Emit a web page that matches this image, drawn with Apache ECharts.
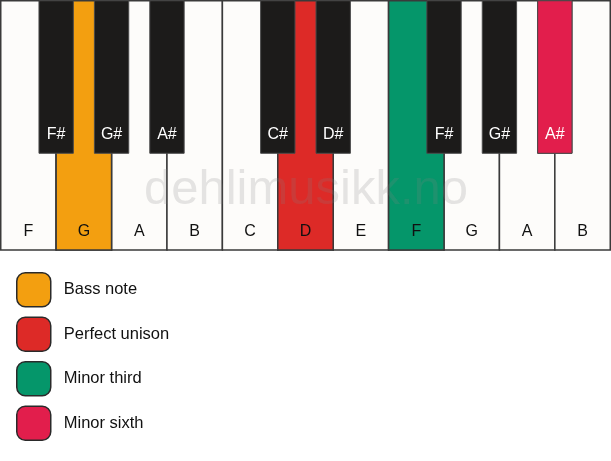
<!DOCTYPE html>
<html>
<head>
<meta charset="utf-8">
<script src="https://cdn.jsdelivr.net/npm/echarts@6/dist/echarts.min.js"></script>
<style>
  html, body { margin: 0; padding: 0; background: #ffffff; }
  #chart { width: 611px; height: 461px; }
</style>
</head>
<body>
<div id="chart"></div>
<script>
// keyboard layout: white keys left to right, black keys sit on the boundary between two whites
const whiteNotes = ['F', 'G', 'A', 'B', 'C', 'D', 'E', 'F', 'G', 'A', 'B'];
const blackNotes = ['F#', 'G#', 'A#', 'C#', 'D#', 'F#', 'G#', 'A#'];
const blackPos = [1, 2, 3, 5, 6, 8, 9, 10];

// highlighted keys, one per legend entry
const legendNames = ['Bass note', 'Perfect unison', 'Minor third', 'Minor sixth'];
const legendColors = ['#F39F10', '#DD2A27', '#05966A', '#E21E4C'];
const highlightKind = ['white', 'white', 'white', 'black'];
const highlightIndex = [1, 5, 7, 7];

const WHITE_FILL = '#FDFCFA';
const BLACK_FILL = '#1C1B1A';
const FONT = '"Liberation Sans", Arial, Helvetica, sans-serif';
const blackWidth = 0.62;
const blackBottom = 0.388;

function drawKey(kind, pos, label, fill, api) {
  const white = kind === 'white';
  const tl = white ? api.coord([pos, 1]) : api.coord([pos - blackWidth / 2, 1]);
  const br = white ? api.coord([pos + 1, 0]) : api.coord([pos + blackWidth / 2, blackBottom]);
  return {
    type: 'group',
    children: [
      {
        type: 'rect',
        shape: { x: tl[0], y: tl[1], width: br[0] - tl[0], height: br[1] - tl[1] },
        style: { fill: fill, stroke: white ? '#3a3a3a' : '#4a4a4a', lineWidth: white ? 1.5 : 1 }
      },
      {
        type: 'text',
        style: {
          text: label,
          x: (tl[0] + br[0]) / 2,
          y: br[1] - 18.5,
          align: 'center',
          verticalAlign: 'middle',
          fill: white ? '#111111' : '#ffffff',
          font: '16px ' + FONT
        }
      }
    ]
  };
}

const whiteData = whiteNotes.map((n, i) => [i, n]);
const blackData = blackNotes.map((n, i) => [blackPos[i], n]);

const series = [
  {
    type: 'custom',
    name: 'white',
    z: 1,
    data: whiteData,
    renderItem: (params, api) => drawKey('white', api.value(0), whiteNotes[params.dataIndex], WHITE_FILL, api)
  },
  {
    type: 'custom',
    name: 'black',
    z: 3,
    data: blackData,
    renderItem: (params, api) => drawKey('black', api.value(0), blackNotes[params.dataIndex], BLACK_FILL, api)
  }
];

legendNames.forEach((name, k) => {
  const kind = highlightKind[k];
  const idx = highlightIndex[k];
  const pos = kind === 'white' ? idx : blackPos[idx];
  const label = kind === 'white' ? whiteNotes[idx] : blackNotes[idx];
  series.push({
    type: 'custom',
    name: name,
    z: kind === 'white' ? 2 : 4,
    itemStyle: { color: legendColors[k] },
    data: [[pos, label]],
    renderItem: (params, api) => drawKey(kind, api.value(0), label, legendColors[k], api)
  });
});

const chart = echarts.init(document.getElementById('chart'), null, { renderer: 'canvas' });

chart.setOption({
  animation: false,
  backgroundColor: '#ffffff',
  grid: { left: 0.75, right: 0.75, top: 0.75, height: 249.25 },
  xAxis: { type: 'value', min: 0, max: 11, show: false },
  yAxis: { type: 'value', min: 0, max: 1, show: false },
  legend: {
    data: legendNames,
    orient: 'vertical',
    left: 16,
    top: 272,
    padding: 0,
    itemWidth: 34,
    itemHeight: 34,
    itemGap: 9,
    icon: 'roundRect',
    selectedMode: false,
    itemStyle: { borderColor: '#2a2a2a', borderWidth: 1.5 },
    textStyle: { fontSize: 16.5, color: '#111111', fontFamily: FONT, padding: [0, 0, 0, 8] }
  },
  graphic: [
    {
      type: 'text',
      z: 100,
      style: {
        text: 'dehlimusikk.no',
        x: 306,
        y: 190,
        align: 'center',
        verticalAlign: 'middle',
        fill: 'rgba(128,128,128,0.2)',
        font: '49px ' + FONT
      }
    }
  ],
  series: series
});
</script>
</body>
</html>
